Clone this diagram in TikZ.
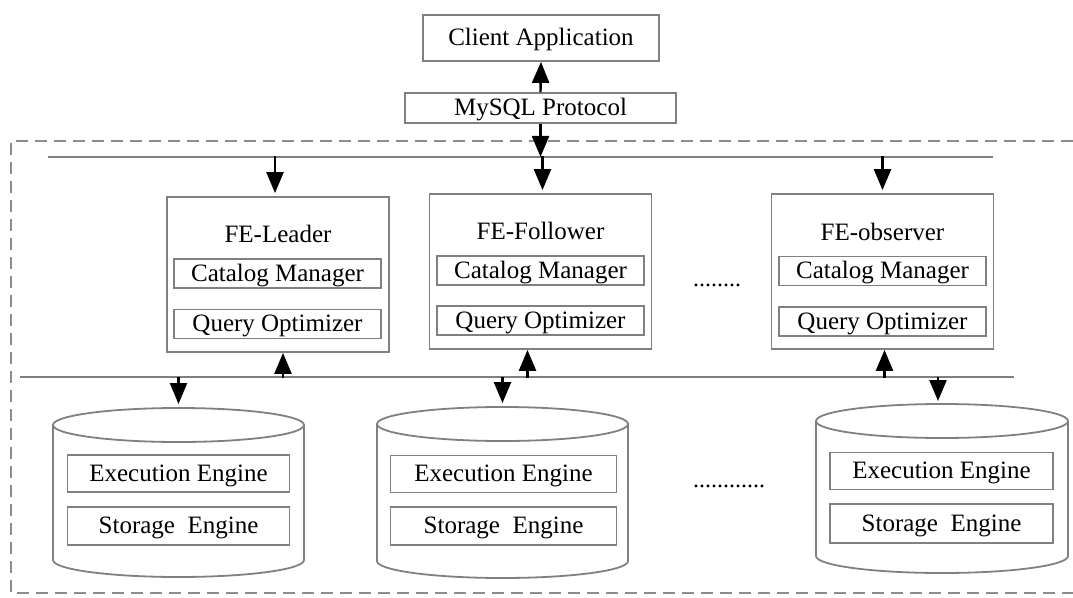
\documentclass[tikz,border=0pt]{standalone}
\usepackage{fontspec}
\setmainfont{Liberation Serif}
\usetikzlibrary{arrows.meta,calc}
\begin{document}
\begin{tikzpicture}[x=1pt,y=-1pt,
  every node/.style={font=\fontsize{25}{27}\selectfont, text=black, inner sep=0pt},
  box/.style={draw=black!50, line width=1.8pt, text depth=1.5pt},
  outerbox/.style={box, minimum width=222pt, minimum height=155pt},
  innerbox/.style={box, minimum width=207pt, minimum height=29pt},
  engbox/.style={box, minimum width=222pt, minimum height=37pt},
  bus/.style={draw=black!50, line width=1.8pt},
  cyl/.style={draw=black!50, line width=1.8pt},
  arr/.style={draw=black, line width=2.4pt, -{Triangle[length=21pt,width=17pt]}},
  dots/.style={font=\fontsize{24}{26}\selectfont}
]
\useasboundingbox (0,0) rectangle (1073,597);

% top
\node[box, minimum width=236pt, minimum height=46pt] (client) at (541,38) {Client Application};
\node[box, minimum width=271pt, minimum height=30pt] (mysql) at (540.5,108) {MySQL Protocol};

% dashed frame
\draw[draw=black!45, line width=1.8pt, dash pattern=on 12pt off 7pt] (1073,141) -- (11,141) -- (11,593) -- (1073,593);

% buses
\coordinate (tbL) at (48,157);
\coordinate (tbR) at (993,157);
\coordinate (bbL) at (20,377);
\coordinate (bbR) at (1014,377);
\draw[bus] (tbL) -- (tbR);
\draw[bus] (bbL) -- (bbR);

% FE boxes
\node[outerbox] (leader) at (278,274.5) {};
\node (leadert) at (278,234) {FE-Leader};
\node[innerbox] (leaderc) at (277.5,273.5) {Catalog Manager};
\node[innerbox] (leaderq) at (277.5,324) {Query Optimizer};

\node[outerbox] (follower) at (540.5,271.5) {};
\node (followert) at (540.5,231) {FE-Follower};
\node[innerbox] (followerc) at (540.5,270.5) {Catalog Manager};
\node[innerbox] (followerq) at (540.5,320.5) {Query Optimizer};

\node[outerbox] (observer) at (882.5,271.5) {};
\node (observert) at (882.5,232) {FE-observer};
\node[innerbox] (observerc) at (882.5,271) {Catalog Manager};
\node[innerbox] (observerq) at (882.5,321.5) {Query Optimizer};

\node[dots] (dotsA) at (717,285) {........};

% cylinders
\draw[cyl] (53,425) -- (53,560) arc[start angle=180, end angle=360, x radius=125.5pt, y radius=17pt] -- (304,425);
\draw[cyl] (178.5,425) ellipse [x radius=125.5pt, y radius=17pt];
\coordinate (cylA) at (178.5,408);
\node[engbox] (execA) at (178.5,473.5) {Execution Engine};
\node[engbox, minimum height=38pt] (storA) at (178.5,526) {Storage\ \ Engine};

\draw[cyl] (377,424) -- (377,561) arc[start angle=180, end angle=360, x radius=125.5pt, y radius=17pt] -- (628,424);
\draw[cyl] (502.5,424) ellipse [x radius=125.5pt, y radius=17pt];
\coordinate (cylB) at (502.5,407);
\node[engbox, minimum width=226pt] (execB) at (503.5,474) {Execution Engine};
\node[engbox, minimum width=226pt, minimum height=38pt] (storB) at (503.5,526) {Storage\ \ Engine};

\draw[cyl] (816,421) -- (816,556) arc[start angle=180, end angle=360, x radius=126pt, y radius=17pt] -- (1068,421);
\draw[cyl] (942,421) ellipse [x radius=126pt, y radius=17pt];
\coordinate (cylC) at (942,404);
\node[engbox, minimum width=223pt] (execC) at (941.5,471) {Execution Engine};
\node[engbox, minimum width=223pt, minimum height=39pt] (storC) at (941.5,523.5) {Storage\ \ Engine};

\node[dots] (dotsB) at (729,486) {............};

% arrows
\draw[arr] (mysql.north) -- (client.south);
\draw[arr] (mysql.south) -- ($(mysql.south)+(0,33)$);
\draw[arr] ($(follower.north)+(2,-37)$) -- ($(follower.north)+(2,-3)$);
\draw[arr] ($(leader.north)+(-3,-40)$) -- ($(leader.north)+(-3,-3)$);
\draw[arr] ($(observer.north)+(0,-37)$) -- ($(observer.north)+(0,-3)$);

\draw[arr] ($(leader.south)+(5,25)$) -- ($(leader.south)+(5,0)$);
\draw[arr] ($(follower.south)+(-13,28)$) -- ($(follower.south)+(-13,0)$);
\draw[arr] ($(observer.south)+(2,28)$) -- ($(observer.south)+(2,0)$);

\draw[arr] ($(cylA)+(0,-31)$) -- ($(cylA)+(0,-4)$);
\draw[arr] ($(cylB)+(0,-30)$) -- ($(cylB)+(0,-4)$);
\draw[arr] ($(cylC)+(-4,-27)$) -- ($(cylC)+(-4,-3)$);
\end{tikzpicture}
\end{document}
